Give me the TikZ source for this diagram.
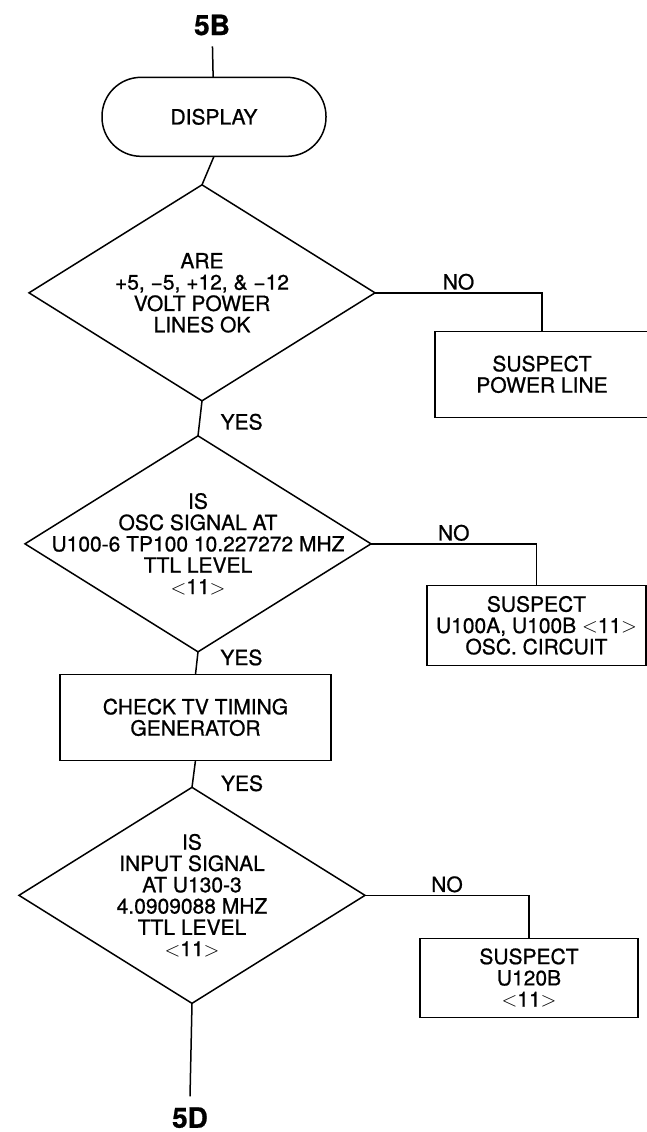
\documentclass[tikz,border=0pt]{standalone}
\usepackage{fontspec}
\setmainfont{TeX Gyre Heros}[FakeBold=0.8]
\usetikzlibrary{positioning,shapes.geometric}

\begin{document}
\begin{tikzpicture}[x=1pt, y=-1pt, line width=1.5pt, font=\fontsize{21}{21.3}\selectfont,
   every node/.style={outer sep=0pt},
   term/.style={draw, rounded corners=39pt, minimum width=224pt, minimum height=79pt},
   dec/.style={draw, diamond, minimum width=346pt, minimum height=216pt, inner sep=0pt},
   blk/.style={draw, align=center, inner sep=2pt},
   txt/.style={align=center, inner sep=0pt},
   lbl/.style={font=\fontsize{28}{28}\selectfont\bfseries, inner xsep=0pt, inner ysep=11pt},
   yn/.style={inner sep=0pt}]
  \useasboundingbox (0,0) rectangle (647,1132);
  % main column
  \node[lbl] (in) at (212,25) {5B};
  \node[term, below=31pt of in, xshift=2pt] (disp) {DISPLAY};
  \node[dec, below=28.5pt of disp, xshift=-12pt,
        label={[txt]center:{ARE\\+5, −5, +12, \& −12\\VOLT POWER\\LINES OK}}] (q1) {};
  \node[dec, below=35pt of q1, xshift=-4pt,
        label={[txt]center:{IS\\OSC SIGNAL AT\\U100-6 TP100 10.227272 MHZ\\TTL LEVEL\\$<$11$>$}}] (q2) {};
  \node[blk, below=22.5pt of q2, xshift=-2.5pt, minimum width=271pt, minimum height=86pt] (chk)
     {CHECK TV TIMING\\GENERATOR};
  \node[dec, below=27pt of chk, xshift=-3.5pt,
        label={[txt]center:{IS\\INPUT SIGNAL\\AT U130-3\\4.0909088 MHZ\\TTL LEVEL\\$<$11$>$}}] (q3) {};
  \node[lbl, below=93pt of q3, xshift=-2pt] (out) {5D};
  % fault boxes
  \node[blk, below right=38.5pt and 60pt of q1.east, minimum width=214pt, minimum height=86pt] (s1)
     {SUSPECT\\POWER LINE};
  \node[blk, below right=41.5pt and 56pt of q2.east, minimum width=219pt, minimum height=80pt] (s2)
     {SUSPECT\\U100A, U100B $<$11$>$\\OSC. CIRCUIT};
  \node[blk, below right=43pt and 55pt of q3.east, minimum width=218pt, minimum height=79pt] (s3)
     {SUSPECT\\U120B\\$<$11$>$};
  \draw (in) -- (disp); \draw (disp.south) -- (q1.north);
  \draw (q1.south) -- node[yn, pos=.6, right=21pt] {YES} (q2.north);
  \draw (q2.south) -- node[yn, pos=.25, right=23pt] {YES} (chk.north);
  \draw (chk.south) -- node[yn, pos=.85, right=28.5pt] {YES} (q3.north);
  \draw (q3.south) -- (out.north);
  \draw (q1.east) -| node[yn, pos=.25, above=3pt] {NO} (s1.north);
  \draw (q2.east) -| node[yn, pos=.25, above=3pt] {NO} (s2.north);
  \draw (q3.east) -| node[yn, pos=.25, above=3pt] {NO} (s3.north);
\end{tikzpicture}
\end{document}
